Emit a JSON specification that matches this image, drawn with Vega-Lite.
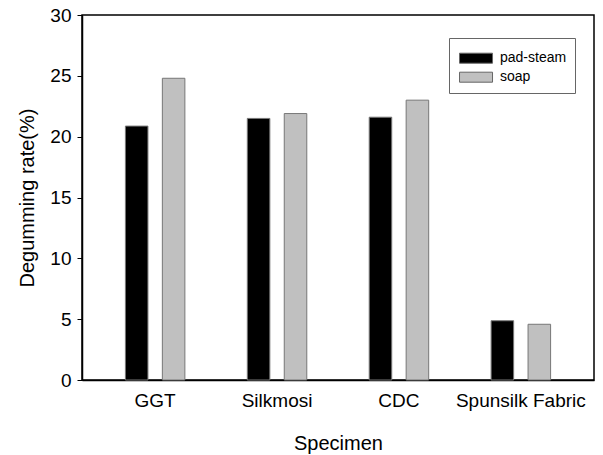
{
  "$schema": "https://vega.github.io/schema/vega-lite/v6.json",
  "width": 512,
  "height": 365,
  "autosize": {"type": "none"},
  "padding": {"left": 82, "top": 15, "right": 9, "bottom": 75},
  "background": "white",
  "config": {
    "font": "Liberation Sans",
    "view": {"stroke": "black", "strokeWidth": 1.5},
    "axis": {"grid": false, "domainColor": "black", "domainWidth": 1.5, "tickColor": "black", "labelColor": "black", "titleColor": "black", "titleFontWeight": "normal"}
  },
  "data": {
    "values": [
      {"specimen": "GGT", "method": "pad-steam", "rate": 20.87},
      {"specimen": "GGT", "method": "soap", "rate": 24.8},
      {"specimen": "Silkmosi", "method": "pad-steam", "rate": 21.5},
      {"specimen": "Silkmosi", "method": "soap", "rate": 21.9},
      {"specimen": "CDC", "method": "pad-steam", "rate": 21.6},
      {"specimen": "CDC", "method": "soap", "rate": 23.0},
      {"specimen": "Spunsilk Fabric", "method": "pad-steam", "rate": 4.87},
      {"specimen": "Spunsilk Fabric", "method": "soap", "rate": 4.58}
    ]
  },
  "mark": {"type": "bar", "stroke": "#777777", "strokeWidth": 1},
  "encoding": {
    "x": {
      "field": "specimen", "type": "nominal", "sort": null,
      "scale": {"paddingInner": 0, "paddingOuter": 0.1},
      "axis": {"title": "Specimen", "labelAngle": 0, "ticks": false, "labelPadding": 11, "labelFontSize": 19, "titleFontSize": 20, "titlePadding": 23}
    },
    "xOffset": {
      "field": "method", "type": "nominal", "sort": ["pad-steam", "soap"],
      "scale": {"paddingInner": 0.39, "paddingOuter": 0.845}
    },
    "y": {
      "field": "rate", "type": "quantitative",
      "scale": {"domain": [0, 30], "nice": false},
      "axis": {"title": "Degumming rate(%)", "values": [0, 5, 10, 15, 20, 25, 30], "tickSize": 5, "labelPadding": 6, "labelFontSize": 19, "titleFontSize": 20, "titlePadding": 12}
    },
    "fill": {
      "field": "method", "type": "nominal",
      "scale": {"domain": ["pad-steam", "soap"], "range": ["#000000", "#c0c0c0"]},
      "legend": {
        "title": null, "orient": "none", "legendX": 367, "legendY": 23,
        "strokeColor": "#666666", "padding": 8.7,
        "symbolType": "M-0.88,-0.4545H2.12V0.4545H-0.88Z", "symbolSize": 484,
        "symbolStrokeColor": "#666666", "symbolStrokeWidth": 1,
        "labelFontSize": 14, "labelColor": "black", "labelOffset": 19.3, "rowPadding": 0,
        "labelExpr": "datum.label + '\u00a0\u00a0'"
      }
    }
  }
}
